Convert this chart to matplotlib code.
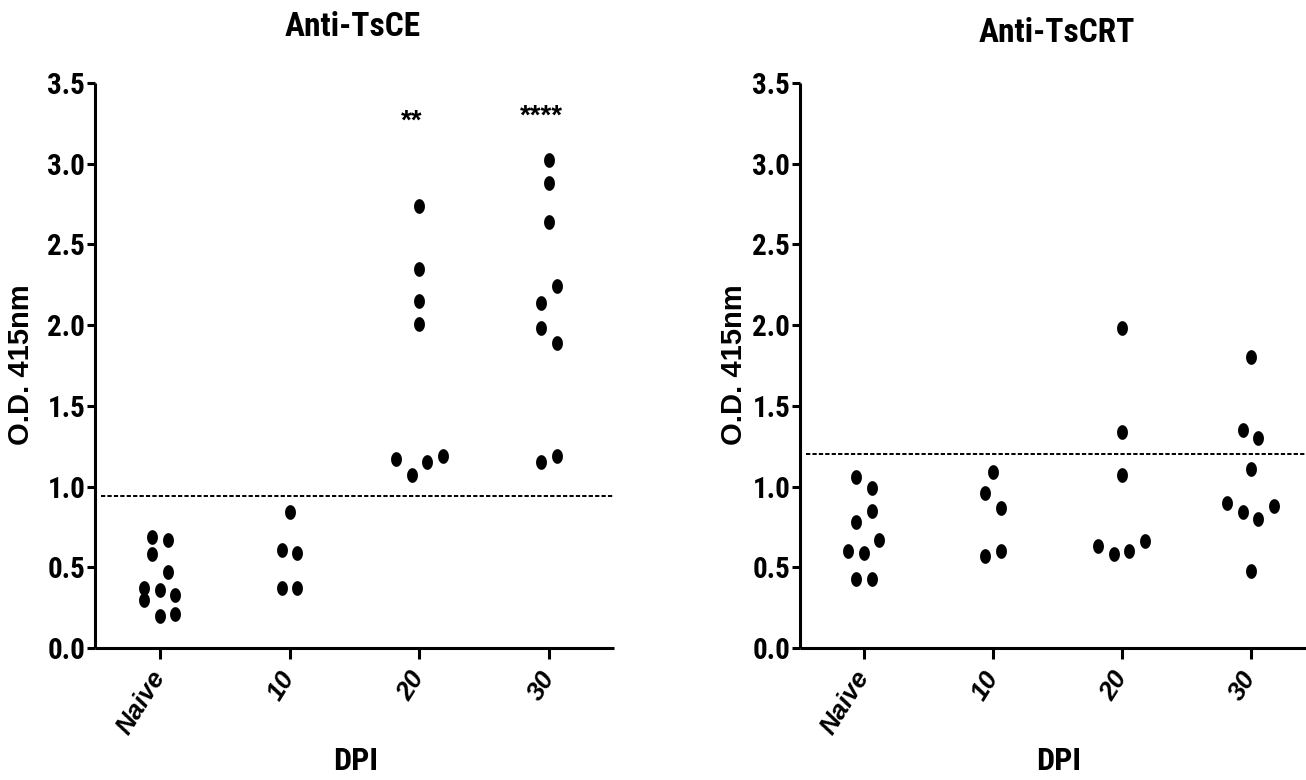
import numpy as np
import matplotlib
matplotlib.use("Agg")
import matplotlib.pyplot as plt
from matplotlib.path import Path
from matplotlib import font_manager as fm
from matplotlib.font_manager import FontProperties

# ---------------- data ----------------
categories = ["Naive", "10", "20", "30"]

tsce_naive = [0.30, 0.20, 0.21, 0.37, 0.36, 0.33, 0.58, 0.47, 0.69, 0.67]
tsce_10 = [0.37, 0.37, 0.61, 0.59, 0.84]
tsce_20 = [1.17, 1.07, 1.15, 1.19, 2.01, 2.15, 2.35, 2.74]
tsce_30 = [1.15, 1.19, 1.98, 1.89, 2.14, 2.24, 2.64, 2.88, 3.02]
tsce_cutoff = 0.94
tsce_sig = ["", "", "**", "****"]
tsce_sig_y = [0, 0, 3.26, 3.29]

tscrt_naive = [0.43, 0.43, 0.60, 0.59, 0.67, 0.78, 0.85, 1.06, 0.99]
tscrt_10 = [0.57, 0.60, 0.96, 0.87, 1.09]
tscrt_20 = [0.63, 0.58, 0.60, 0.66, 1.07, 1.34, 1.98]
tscrt_30 = [0.48, 0.90, 0.84, 0.80, 0.88, 1.11, 1.35, 1.30, 1.80]
tscrt_cutoff = 1.20

yticks = [0.0, 0.5, 1.0, 1.5, 2.0, 2.5, 3.0, 3.5]
ytick_labels = ["0.0", "0.5", "1.0", "1.5", "2.0", "2.5", "3.0", "3.5"]
titles = ["Anti-TsCE", "Anti-TsCRT"]
ylabel = "O.D. 415nm"
xlabel = "DPI"


# ---------------- fonts ----------------
def find_narrow_bold():
    prefs = ["Liberation Sans Narrow", "Arial Narrow", "Roboto Condensed",
             "Arimo Condensed", "Open Sans Condensed", "Noto Sans Condensed",
             "Fira Sans Condensed", "IBM Plex Sans Condensed"]
    ents = fm.fontManager.ttflist
    for p in prefs:
        for f in ents:
            if (f.name == p and f.style == "normal" and "[" not in f.fname
                    and isinstance(f.weight, int) and 650 <= f.weight <= 750):
                return f.fname
    for base in ("Noto Sans", "DejaVu Sans", "Open Sans", "Roboto"):
        for f in ents:
            if (f.name == base and f.style == "normal" and f.stretch == "condensed"
                    and "[" not in f.fname and isinstance(f.weight, int)
                    and 650 <= f.weight <= 750):
                return f.fname
    return None


NARROW_FILE = find_narrow_bold()


def narrow(size):
    if NARROW_FILE:
        return FontProperties(fname=NARROW_FILE, size=size)
    return FontProperties(family=["Liberation Sans", "DejaVu Sans"], weight="bold",
                          size=size * 0.86)


def sans(size, style="normal"):
    return FontProperties(family=["Liberation Sans", "DejaVu Sans"], weight="bold",
                          style=style, size=size)


# ---------------- layout helpers ----------------
def swarm_offsets(values, h=0.125, step=0.12):
    """Row-based scatter layout: points within h of a row's lowest value
    share a row and are spread symmetrically, in data order."""
    vals = np.asarray(values, dtype=float)
    order = np.argsort(vals, kind="stable")
    offs = np.zeros(len(vals))
    i = 0
    while i < len(order):
        start = vals[order[i]]
        row = [order[i]]
        j = i + 1
        while j < len(order) and vals[order[j]] - start < h - 1e-9:
            row.append(order[j])
            j += 1
        row.sort()
        n = len(row)
        for k, idx in enumerate(row):
            offs[idx] = (k - (n - 1) / 2) * step
        i = j
    return offs


t = np.linspace(0, 2 * np.pi, 60)
ellipse = Path(np.column_stack([np.cos(t), 1.35 * np.sin(t)]), closed=True)

fig = plt.figure(figsize=(13.06, 7.80), dpi=100)
W, H = 1306, 780


def px_axes(x0, x1, ytop, ybot):
    return fig.add_axes([x0 / W, 1 - ybot / H, (x1 - x0) / W, (ybot - ytop) / H])


panels = [
    dict(groups=[tsce_naive, tsce_10, tsce_20, tsce_30], cutoff=tsce_cutoff,
         box=(95, 614, 83, 648), xlim=(-0.5, 3.5), sig=tsce_sig, sig_y=tsce_sig_y,
         title_xy=(353, 27), ylab_x=21, dpi_xy=(356, 761)),
    dict(groups=[tscrt_naive, tscrt_10, tscrt_20, tscrt_30], cutoff=tscrt_cutoff,
         box=(800, 1306, 83, 648), xlim=(-0.496, 3.43), sig=None, sig_y=None,
         title_xy=(1057, 33), ylab_x=734, dpi_xy=(1059, 761)),
]

for pi, p in enumerate(panels):
    x0, x1, yt, yb = p["box"]
    ax = px_axes(x0, x1, yt, yb)
    for gi, g in enumerate(p["groups"]):
        xs = gi + swarm_offsets(g)
        ax.scatter(xs, g, marker=ellipse, s=112, color="black", linewidths=0, zorder=3)
    ax.axhline(p["cutoff"], xmin=0.012, xmax=1, color="black", lw=1.4,
               linestyle=(0, (2.2, 1.1)), zorder=2)
    if p["sig"]:
        for gi, (s, sy) in enumerate(zip(p["sig"], p["sig_y"])):
            if s:
                ax.text(gi - 0.06, sy, s, ha="center", va="center",
                        fontproperties=sans(20))
    ax.set_xlim(*p["xlim"])
    ax.set_ylim(0, 3.5)
    ax.set_yticks(yticks)
    ax.set_yticklabels(ytick_labels, fontproperties=narrow(21))
    ax.set_xticks(range(len(categories)))
    ax.set_xticklabels(categories, fontproperties=sans(19, "italic"),
                       rotation=58, ha="right", va="center", rotation_mode="anchor")
    for side in ("top", "right"):
        ax.spines[side].set_visible(False)
    for side in ("left", "bottom"):
        ax.spines[side].set_linewidth(2.2)
        ax.spines[side].set_capstyle("butt")
    ax.tick_params(axis="y", length=6, width=2.2, pad=1, direction="out")
    ax.tick_params(axis="x", length=8, width=2.2, pad=10, direction="out")
    ax.patch.set_alpha(0)

    fig.text(p["title_xy"][0] / W, 1 - p["title_xy"][1] / H, titles[pi],
             ha="center", va="center", fontproperties=narrow(24))
    fig.text(p["ylab_x"] / W, 1 - 365 / H, ylabel, rotation=90, ha="center",
             va="center", fontproperties=sans(21))
    fig.text(p["dpi_xy"][0] / W, 1 - p["dpi_xy"][1] / H, xlabel, ha="center",
             va="center", fontproperties=narrow(23))

fig.savefig("out.png", dpi=100, facecolor="white")
